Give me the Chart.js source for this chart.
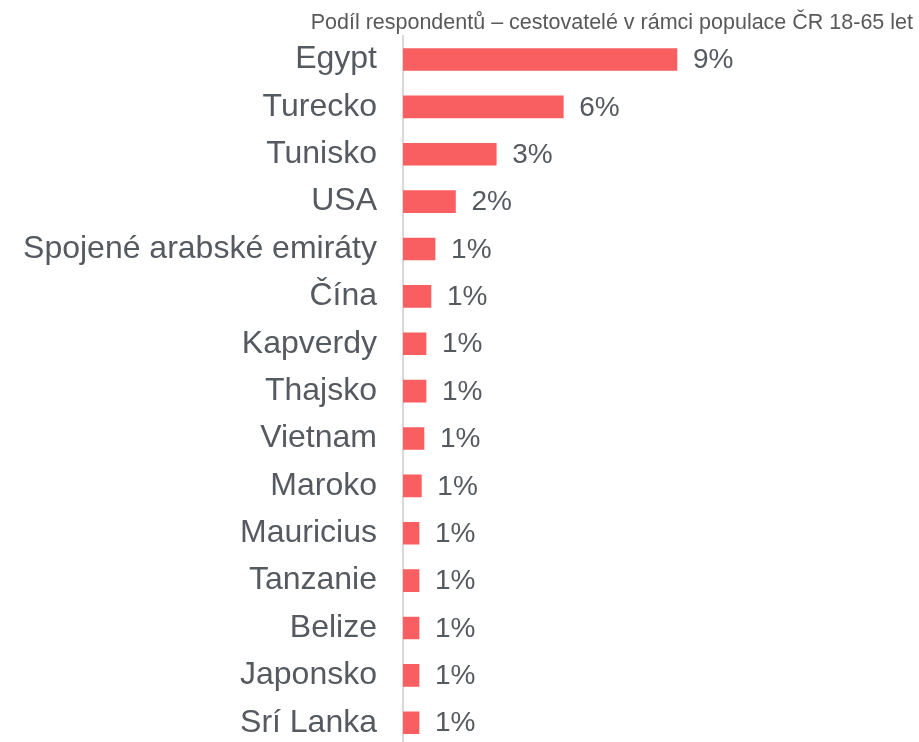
<!DOCTYPE html>
<html>
<head>
<meta charset="utf-8">
<script src="https://cdn.jsdelivr.net/npm/chart.js@4/dist/chart.umd.min.js"></script>
<style>
  html, body { margin: 0; padding: 0; background: #ffffff; overflow: hidden; }
  #wrap { position: relative; width: 919px; height: 748px; }
</style>
</head>
<body>
<div id="wrap"><canvas id="c"></canvas></div>
<script>
const categories = ["Egypt", "Turecko", "Tunisko", "USA", "Spojené arabské emiráty", "Čína", "Kapverdy", "Thajsko", "Vietnam", "Maroko", "Mauricius", "Tanzanie", "Belize", "Japonsko", "Srí Lanka"];
const shares = [9.4, 5.5, 3.2, 1.8, 1.1, 0.96, 0.79, 0.79, 0.72, 0.63, 0.55, 0.55, 0.55, 0.55, 0.55];
const titleText = "Podíl respondentů – cestovatelé v rámci populace ČR 18-65 let";

const FONT = "'Liberation Sans', Arial, sans-serif";
const TEXT_COLOR = "#555a61";

const valueLabels = {
  id: "valueLabels",
  afterDatasetsDraw(chart) {
    const ctx = chart.ctx;
    const meta = chart.getDatasetMeta(0);
    ctx.save();
    ctx.font = "28px " + FONT;
    ctx.fillStyle = TEXT_COLOR;
    ctx.textAlign = "left";
    ctx.textBaseline = "middle";
    meta.data.forEach((bar, i) => {
      const v = chart.data.datasets[0].data[i];
      ctx.fillText(Math.round(v) + "%", bar.x + 16, bar.y + 1);
    });
    ctx.restore();
  }
};

new Chart(document.getElementById("c"), {
  type: "bar",
  data: {
    labels: categories,
    datasets: [{
      data: shares,
      backgroundColor: "#f95e61",
      borderWidth: 0,
      barThickness: 22
    }]
  },
  options: {
    indexAxis: "y",
    responsive: true,
    maintainAspectRatio: false,
    animation: false,
    layout: { padding: { left: 0, right: 6, top: 0, bottom: 0 } },
    plugins: {
      legend: { display: false },
      tooltip: { enabled: false },
      title: {
        display: true,
        text: titleText,
        align: "end",
        color: "#595959",
        font: { family: FONT, size: 21.5, weight: "normal", lineHeight: 1.2 },
        padding: { top: 10, bottom: 0 }
      }
    },
    scales: {
      x: {
        display: false,
        min: 0,
        max: 17.5
      },
      y: {
        afterFit(scale) { scale.width = 403; },
        grid: { display: false, drawTicks: true, tickLength: 26, color: "rgba(0,0,0,0)" },
        border: { display: true, color: "#d9d9d9", width: 2 },
        ticks: {
          padding: 0,
          color: TEXT_COLOR,
          font: { family: FONT, size: 32, lineHeight: 0.1 }
        }
      }
    }
  },
  plugins: [valueLabels]
});
</script>
</body>
</html>
